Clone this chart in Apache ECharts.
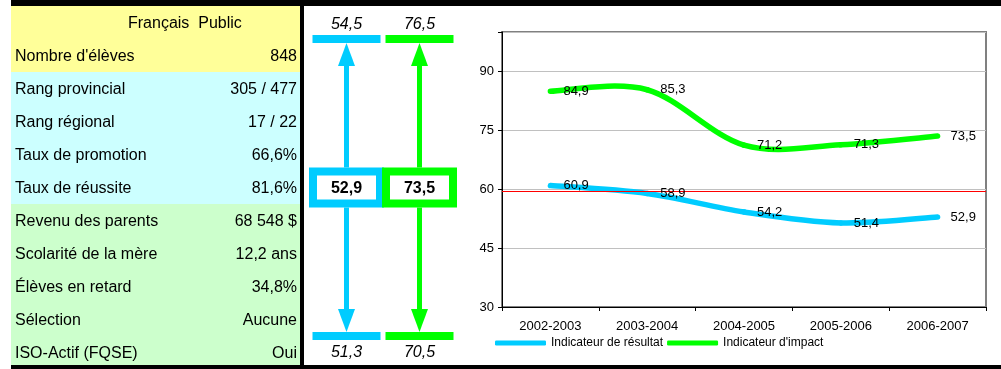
<!DOCTYPE html>
<html><head><meta charset="utf-8">
<script src="https://cdn.jsdelivr.net/npm/echarts@6/dist/echarts.min.js"></script>
<style>html,body{margin:0;padding:0;background:#fff}#c{width:1001px;height:369px}</style>
</head><body><div id="c"></div>
<script>
// ---- data ----
const years = ['2002-2003', '2003-2004', '2004-2005', '2005-2006', '2006-2007'];
const resultat = [60.9, 58.9, 54.2, 51.4, 52.9];
const impact = [84.9, 85.3, 71.2, 71.3, 73.5];
const seuil = 59.5;
const seriesNames = ['Indicateur de résultat', "Indicateur d'impact"];
const rangeHaut = [54.5, 76.5];
const rangeBas = [51.3, 70.5];
const actuel = [52.9, 73.5];
const enTete = 'Français  Public';
const rowLabels = ["Nombre d'élèves", 'Rang provincial', 'Rang régional', 'Taux de promotion', 'Taux de réussite',
  'Revenu des parents', 'Scolarité de la mère', 'Élèves en retard', 'Sélection', 'ISO-Actif (FQSE)'];
const rowValues = ['848', '305 / 477', '17 / 22', '66,6%', '81,6%', '68 548 $', '12,2 ans', '34,8%', 'Aucune', 'Oui'];
const rowGroups = [0, 1, 1, 1, 1, 2, 2, 2, 2, 2];

// ---- styles ----
const FONT = '"Liberation Sans", Arial, sans-serif';
const BLUE = '#00CCFF', GREEN = '#00FF00';
const groupColors = ['#FFFF99', '#CCFFFF', '#CCFFCC'];
const fmt = v => v.toFixed(1).replace('.', ',');

// ---- table (graphic) ----
const T = {left: 11, right: 300, top: 6, rowH: 33};
const g = [];
const allGroups = [0].concat(rowGroups);
allGroups.forEach((grp, i) => {
  g.push({type: 'rect', silent: true, shape: {x: T.left, y: T.top + i * T.rowH, width: T.right - T.left, height: T.rowH},
    style: {fill: groupColors[grp]}});
});
g.push({type: 'text', silent: true, x: 128, y: T.top + 17.5,
  style: {text: enTete, font: '16px ' + FONT, fill: '#000', align: 'left', verticalAlign: 'middle'}});
rowLabels.forEach((lab, i) => {
  const cy = T.top + (i + 1) * T.rowH + 17.5;
  g.push({type: 'text', silent: true, x: 15, y: cy,
    style: {text: lab, font: '16px ' + FONT, fill: '#000', align: 'left', verticalAlign: 'middle'}});
  g.push({type: 'text', silent: true, x: 297, y: cy,
    style: {text: rowValues[i], font: '16px ' + FONT, fill: '#000', align: 'right', verticalAlign: 'middle'}});
});
// frame
g.push({type: 'rect', silent: true, shape: {x: 11, y: 0, width: 990, height: 6}, style: {fill: '#000'}});
g.push({type: 'rect', silent: true, shape: {x: 11, y: 365, width: 990, height: 4}, style: {fill: '#000'}});
g.push({type: 'rect', silent: true, shape: {x: 300, y: 0, width: 4, height: 369}, style: {fill: '#000'}});

// ---- arrow panel (custom series) ----
function arrowItem(params, api) {
  const cat = api.value(0), lo = api.value(1), cur = api.value(2), hi = api.value(3);
  const pHi = api.coord([cat, hi]), pLo = api.coord([cat, lo]), pCur = api.coord([cat, cur]);
  const cx = pHi[0];
  const color = api.visual('color');
  const barW = 68, barH = 8, headH = 23, headW = 17, shaft = 5, boxW = 75, boxH = 40, bord = 8;
  const st = {fill: color};
  return {type: 'group', children: [
    {type: 'rect', shape: {x: cx - barW / 2, y: pHi[1] - barH / 2, width: barW, height: barH}, style: st},
    {type: 'rect', shape: {x: cx - barW / 2, y: pLo[1] - barH / 2, width: barW, height: barH}, style: st},
    {type: 'rect', shape: {x: cx - shaft / 2, y: pHi[1] + barH / 2 + headH - 1, width: shaft, height: (pCur[1] - boxH / 2) - (pHi[1] + barH / 2 + headH - 1)}, style: st},
    {type: 'rect', shape: {x: cx - shaft / 2, y: pCur[1] + boxH / 2, width: shaft, height: (pLo[1] - barH / 2 - headH + 1) - (pCur[1] + boxH / 2)}, style: st},
    {type: 'polygon', shape: {points: [[cx, pHi[1] + barH / 2], [cx - headW / 2, pHi[1] + barH / 2 + headH], [cx + headW / 2, pHi[1] + barH / 2 + headH]]}, style: st},
    {type: 'polygon', shape: {points: [[cx, pLo[1] - barH / 2], [cx - headW / 2, pLo[1] - barH / 2 - headH], [cx + headW / 2, pLo[1] - barH / 2 - headH]]}, style: st},
    {type: 'rect', shape: {x: cx - boxW / 2, y: pCur[1] - boxH / 2, width: boxW, height: boxH}, style: st},
    {type: 'rect', shape: {x: cx - boxW / 2 + bord, y: pCur[1] - boxH / 2 + bord, width: boxW - 2 * bord, height: boxH - 2 * bord}, style: {fill: '#fff'}},
    {type: 'text', x: cx, y: pCur[1] + 1, style: {text: fmt(cur), font: 'bold 16px ' + FONT, fill: '#000', align: 'center', verticalAlign: 'middle'}},
    {type: 'text', x: cx, y: pHi[1] - 14, style: {text: fmt(hi), font: 'italic 16px ' + FONT, fill: '#000', align: 'center', verticalAlign: 'middle'}},
    {type: 'text', x: cx, y: pLo[1] + 17, style: {text: fmt(lo), font: 'italic 16px ' + FONT, fill: '#000', align: 'center', verticalAlign: 'middle'}}
  ]};
}

// ---- smoothed curve (Catmull-Rom style bezier, through the axes) ----
function curveItem(vals) {
  const n = vals.length;
  return function (params, api) {
    const i = params.dataIndex;
    if (i >= n - 1) return null;
    const P = k => { const j = Math.max(0, Math.min(n - 1, k)); return api.coord([j, vals[j]]); };
    const p0 = P(i - 1), p1 = P(i), p2 = P(i + 1), p3 = P(i + 2);
    const t = 1 / 6;
    return {
      type: 'bezierCurve',
      shape: {
        x1: p1[0], y1: p1[1], x2: p2[0], y2: p2[1],
        cpx1: p1[0] + (p2[0] - p0[0]) * t, cpy1: p1[1] + (p2[1] - p0[1]) * t,
        cpx2: p2[0] - (p3[0] - p1[0]) * t, cpy2: p2[1] - (p3[1] - p1[1]) * t
      },
      style: {stroke: api.visual('color'), fill: 'none', lineWidth: 5.5, lineCap: 'round'}
    };
  };
}

const labelCfg = {show: true, position: 'right', distance: 12, fontSize: 13, fontFamily: FONT, color: '#000',
  formatter: p => fmt(p.value)};

const chart = echarts.init(document.getElementById('c'), null, {renderer: 'canvas'});
chart.setOption({
  backgroundColor: '#fff',
  animation: false,
  textStyle: {fontFamily: FONT},
  graphic: {elements: g},
  legend: {
    data: seriesNames, left: 490, top: 332, itemWidth: 51, itemHeight: 5, itemGap: 4, icon: 'roundRect',
    textStyle: {fontSize: 12, fontFamily: FONT, color: '#000'}
  },
  grid: [
    {left: 502, top: 32, width: 484, height: 275, show: true, borderColor: '#808080', borderWidth: 2, backgroundColor: '#fff'},
    {left: 310, top: 39, width: 146, height: 297, show: false}
  ],
  xAxis: [
    {type: 'category', data: years, gridIndex: 0, boundaryGap: true,
      axisLine: {lineStyle: {color: '#000', width: 1}},
      axisTick: {show: true, length: 4, lineStyle: {color: '#000'}},
      axisLabel: {fontSize: 13, fontFamily: FONT, color: '#000', margin: 13}},
    {type: 'category', data: seriesNames, gridIndex: 1, boundaryGap: true, show: false}
  ],
  yAxis: [
    {type: 'value', gridIndex: 0, min: 30, max: 100, interval: 15,
      axisLine: {show: true, lineStyle: {color: '#000', width: 1}},
      axisTick: {show: true, length: 4, lineStyle: {color: '#000'}},
      splitLine: {show: true, lineStyle: {color: '#c0c0c0', width: 1}},
      axisLabel: {fontSize: 13, fontFamily: FONT, color: '#000', margin: 8, formatter: v => (v === 100 ? '' : String(v))}},
    {type: 'value', gridIndex: 1, min: rangeBas[0], max: rangeHaut[0], show: false, splitLine: {show: false}},
    {type: 'value', gridIndex: 1, min: rangeBas[1], max: rangeHaut[1], show: false, splitLine: {show: false}}
  ],
  series: [
    {name: seriesNames[0], type: 'line', data: resultat, xAxisIndex: 0, yAxisIndex: 0,
      symbol: 'circle', symbolSize: 2, itemStyle: {color: BLUE}, lineStyle: {opacity: 0},
      label: labelCfg, z: 5,
      markLine: {silent: true, symbol: 'none', label: {show: false}, lineStyle: {color: '#FF0000', width: 1, type: 'solid'},
        data: [{yAxis: seuil}]}},
    {name: seriesNames[1], type: 'line', data: impact, xAxisIndex: 0, yAxisIndex: 0,
      symbol: 'circle', symbolSize: 2, itemStyle: {color: GREEN}, lineStyle: {opacity: 0},
      label: labelCfg, z: 5},
    {type: 'custom', xAxisIndex: 0, yAxisIndex: 0, itemStyle: {color: BLUE}, renderItem: curveItem(resultat), silent: true, z: 3,
      encode: {x: 0, y: 1}, data: resultat.map((v, i) => [i, v])},
    {type: 'custom', xAxisIndex: 0, yAxisIndex: 0, itemStyle: {color: GREEN}, renderItem: curveItem(impact), silent: true, z: 3,
      encode: {x: 0, y: 1}, data: impact.map((v, i) => [i, v])},
    {type: 'custom', xAxisIndex: 1, yAxisIndex: 1, itemStyle: {color: BLUE}, renderItem: arrowItem, silent: true,
      data: [[0, rangeBas[0], actuel[0], rangeHaut[0]]]},
    {type: 'custom', xAxisIndex: 1, yAxisIndex: 2, itemStyle: {color: GREEN}, renderItem: arrowItem, silent: true,
      data: [[1, rangeBas[1], actuel[1], rangeHaut[1]]]}
  ]
});
</script></body></html>
